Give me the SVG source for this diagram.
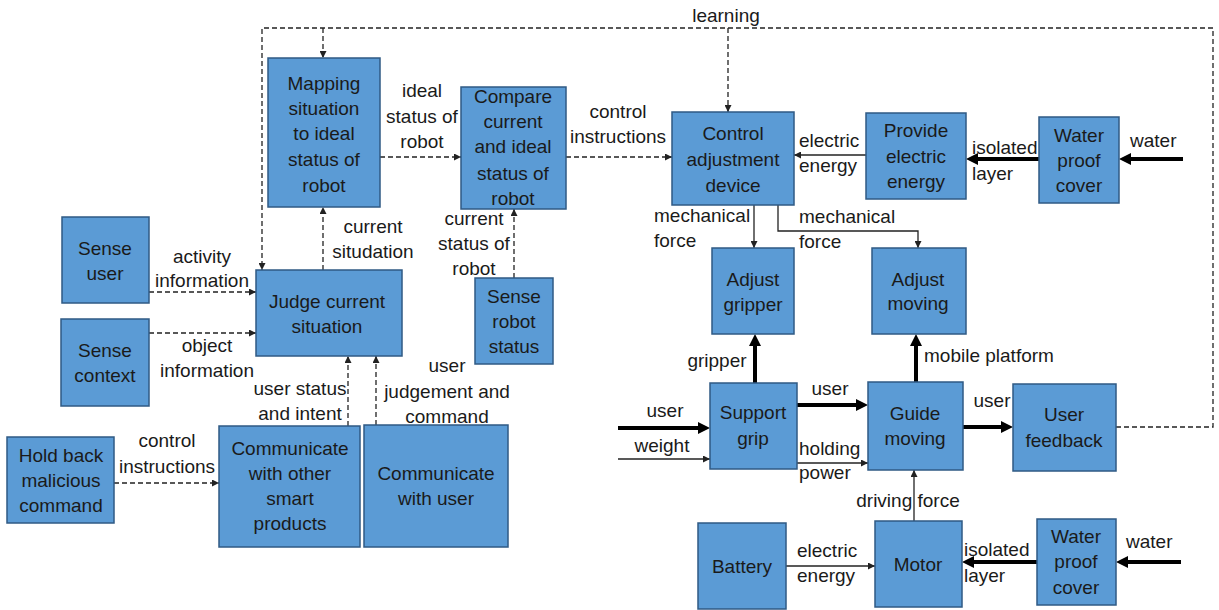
<svg xmlns="http://www.w3.org/2000/svg" width="1219" height="610" viewBox="0 0 1219 610">
<style>
.box{fill:#5b9bd5;stroke:#2f5a84;stroke-width:1.5}
text{font-family:"Liberation Sans",Arial,sans-serif;font-size:19px;fill:#1a1a1a}
.c{text-anchor:middle}
.d{fill:none;stroke:#222;stroke-width:1.3;stroke-dasharray:5 3}
.s{fill:none;stroke:#222;stroke-width:1.3}
.t{fill:none;stroke:#000;stroke-width:4}
</style>
<defs>
<marker id="a" viewBox="0 0 10 10" refX="10" refY="5" markerWidth="7" markerHeight="7" markerUnits="userSpaceOnUse" orient="auto"><path d="M0,0 L10,5 L0,10 z" fill="#222"/></marker>
<marker id="b" viewBox="0 0 10 10" refX="5" refY="5" markerWidth="12" markerHeight="12" markerUnits="userSpaceOnUse" orient="auto"><path d="M0,0 L10,5 L0,10 z" fill="#000"/></marker>
</defs>
<g id="connectors">
<path class="d" d="M149,292 H256" marker-end="url(#a)"/>
<path class="d" d="M149,333 H256" marker-end="url(#a)"/>
<path class="d" d="M114,483 H219" marker-end="url(#a)"/>
<path class="d" d="M348,426 V356" marker-end="url(#a)"/>
<path class="d" d="M376,425 V356" marker-end="url(#a)"/>
<path class="d" d="M323,270 V207" marker-end="url(#a)"/>
<path class="d" d="M380,157 H461" marker-end="url(#a)"/>
<path class="d" d="M514,278 V209" marker-end="url(#a)"/>
<path class="d" d="M566,157 H672" marker-end="url(#a)"/>
<path class="d" d="M1116,427 H1213 V28 H262 V270" marker-end="url(#a)"/>
<path class="d" d="M323,28 V58" marker-end="url(#a)"/>
<path class="d" d="M728,28 V112" marker-end="url(#a)"/>
<path class="s" d="M866,155 H794" marker-end="url(#a)"/>
<path class="s" d="M754,205 V248" marker-end="url(#a)"/>
<path class="s" d="M778,205 V231 H918 V248" marker-end="url(#a)"/>
<path class="s" d="M618,459 H710" marker-end="url(#a)"/>
<path class="s" d="M797,463 H868" marker-end="url(#a)"/>
<path class="s" d="M786,566 H875" marker-end="url(#a)"/>
<path class="s" d="M914,521 V470" marker-end="url(#a)"/>
<path class="t" d="M1039,159 H972" marker-end="url(#b)"/>
<path class="t" d="M1183,159 H1125" marker-end="url(#b)"/>
<path class="t" d="M755,383 V340" marker-end="url(#b)"/>
<path class="t" d="M618,428 H704" marker-end="url(#b)"/>
<path class="t" d="M797,405 H862" marker-end="url(#b)"/>
<path class="t" d="M916,382 V340" marker-end="url(#b)"/>
<path class="t" d="M963,427 H1007" marker-end="url(#b)"/>
<path class="t" d="M1037,562 H968" marker-end="url(#b)"/>
<path class="t" d="M1181,562 H1122" marker-end="url(#b)"/>
</g>
<g id="labels">
<text class="c" x="726" y="22">learning</text>
<text class="c" x="422" y="97">ideal</text>
<text class="c" x="422" y="123">status of</text>
<text class="c" x="422" y="148">robot</text>
<text class="c" x="618" y="118">control</text>
<text class="c" x="618" y="143">instructions</text>
<text x="799" y="147">electric</text>
<text x="799" y="172">energy</text>
<text x="972" y="154">isolated</text>
<text x="972" y="180">layer</text>
<text x="1130" y="147">water</text>
<text class="c" x="373" y="233">current</text>
<text class="c" x="373" y="258">situdation</text>
<text class="c" x="202" y="263">activity</text>
<text class="c" x="202" y="287">information</text>
<text class="c" x="474" y="225">current</text>
<text class="c" x="474" y="250">status of</text>
<text class="c" x="474" y="275">robot</text>
<text x="654" y="222">mechanical</text>
<text x="654" y="247">force</text>
<text x="799" y="223">mechanical</text>
<text x="799" y="248">force</text>
<text class="c" x="207" y="352">object</text>
<text class="c" x="207" y="377">information</text>
<text class="c" x="300" y="395">user status</text>
<text class="c" x="300" y="420">and intent</text>
<text class="c" x="447" y="372">user</text>
<text class="c" x="447" y="398">judgement and</text>
<text class="c" x="447" y="423">command</text>
<text class="c" x="167" y="447">control</text>
<text class="c" x="167" y="473">instructions</text>
<text class="c" x="717" y="367">gripper</text>
<text x="924" y="362">mobile platform</text>
<text class="c" x="665" y="417">user</text>
<text class="c" x="662" y="452">weight</text>
<text class="c" x="830" y="395">user</text>
<text x="799" y="455">holding</text>
<text x="799" y="479">power</text>
<text class="c" x="992" y="407">user</text>
<text class="c" x="908" y="507">driving force</text>
<text x="797" y="557">electric</text>
<text x="797" y="582">energy</text>
<text x="964" y="556">isolated</text>
<text x="964" y="582">layer</text>
<text x="1126" y="548">water</text>
</g>
<g id="mapping"><rect class="box" x="268" y="58" width="112" height="149"/>
<text class="c" x="324" y="90">Mapping</text><text class="c" x="324" y="115">situation</text><text class="c" x="324" y="140">to ideal</text><text class="c" x="324" y="166">status of</text><text class="c" x="324" y="192">robot</text></g>
<g id="compare"><rect class="box" x="461" y="87" width="105" height="122"/>
<text class="c" x="513" y="103">Compare</text><text class="c" x="513" y="128">current</text><text class="c" x="513" y="153">and ideal</text><text class="c" x="513" y="180">status of</text><text class="c" x="513" y="205">robot</text></g>
<g id="control"><rect class="box" x="672" y="112" width="122" height="93"/>
<text class="c" x="733" y="140">Control</text><text class="c" x="733" y="166">adjustment</text><text class="c" x="733" y="192">device</text></g>
<g id="provide"><rect class="box" x="866" y="113" width="100" height="86"/>
<text class="c" x="916" y="137">Provide</text><text class="c" x="916" y="163">electric</text><text class="c" x="916" y="188">energy</text></g>
<g id="waterproof1"><rect class="box" x="1039" y="117" width="80" height="86"/>
<text class="c" x="1079" y="142">Water</text><text class="c" x="1079" y="167">proof</text><text class="c" x="1079" y="192">cover</text></g>
<g id="senseuser"><rect class="box" x="62" y="217" width="87" height="86"/>
<text class="c" x="105" y="255">Sense</text><text class="c" x="105" y="280">user</text></g>
<g id="sensecontext"><rect class="box" x="61" y="319" width="88" height="87"/>
<text class="c" x="105" y="357">Sense</text><text class="c" x="105" y="382">context</text></g>
<g id="judge"><rect class="box" x="256" y="270" width="146" height="86"/>
<text class="c" x="327" y="308">Judge current</text><text class="c" x="327" y="333">situation</text></g>
<g id="senserobot"><rect class="box" x="475" y="278" width="78" height="86"/>
<text class="c" x="514" y="303">Sense</text><text class="c" x="514" y="328">robot</text><text class="c" x="514" y="353">status</text></g>
<g id="adjustgripper"><rect class="box" x="712" y="248" width="82" height="86"/>
<text class="c" x="753" y="286">Adjust</text><text class="c" x="753" y="311">gripper</text></g>
<g id="adjustmoving"><rect class="box" x="872" y="248" width="94" height="86"/>
<text class="c" x="918" y="286">Adjust</text><text class="c" x="918" y="310">moving</text></g>
<g id="holdback"><rect class="box" x="7" y="437" width="107" height="86"/>
<text class="c" x="61" y="462">Hold back</text><text class="c" x="61" y="487">malicious</text><text class="c" x="61" y="512">command</text></g>
<g id="commother"><rect class="box" x="219" y="426" width="141" height="121"/>
<text class="c" x="290" y="455">Communicate</text><text class="c" x="290" y="480">with other</text><text class="c" x="290" y="505">smart</text><text class="c" x="290" y="530">products</text></g>
<g id="commuser"><rect class="box" x="364" y="425" width="144" height="122"/>
<text class="c" x="436" y="480">Communicate</text><text class="c" x="436" y="505">with user</text></g>
<g id="supportgrip"><rect class="box" x="710" y="383" width="87" height="86"/>
<text class="c" x="753" y="419">Support</text><text class="c" x="753" y="445">grip</text></g>
<g id="guidemoving"><rect class="box" x="868" y="382" width="95" height="88"/>
<text class="c" x="915" y="420">Guide</text><text class="c" x="915" y="445">moving</text></g>
<g id="userfeedback"><rect class="box" x="1013" y="384" width="103" height="87"/>
<text class="c" x="1064" y="421">User</text><text class="c" x="1064" y="447">feedback</text></g>
<g id="battery"><rect class="box" x="698" y="523" width="88" height="86"/>
<text class="c" x="742" y="573">Battery</text></g>
<g id="motor"><rect class="box" x="875" y="521" width="87" height="86"/>
<text class="c" x="918" y="571">Motor</text></g>
<g id="waterproof2"><rect class="box" x="1037" y="519" width="79" height="86"/>
<text class="c" x="1076" y="543">Water</text><text class="c" x="1076" y="568">proof</text><text class="c" x="1076" y="594">cover</text></g>
</svg>
